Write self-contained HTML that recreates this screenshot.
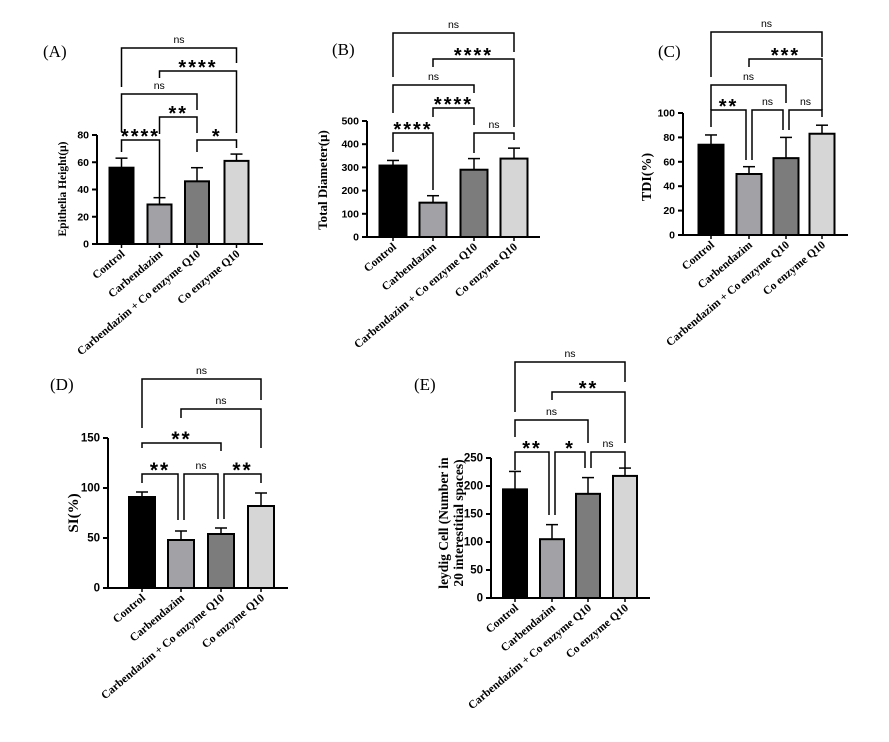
<!DOCTYPE html>
<html><head><meta charset="utf-8"><style>html,body{margin:0;padding:0;background:#fff}svg{display:block}</style></head>
<body>
<svg id="s" xmlns="http://www.w3.org/2000/svg" width="889" height="742" viewBox="0 0 889 742"></svg>
<script>
const S=document.getElementById('s');
function el(t,a,txt){const e=document.createElementNS('http://www.w3.org/2000/svg',t);for(const k in a)e.setAttribute(k,a[k]);if(txt!==undefined)e.textContent=txt;S.appendChild(e);return e;}
const cols=['#000','#a2a2a6','#7c7c7c','#d6d6d6'];
const names=['Control','Carbendazim','Carbendazim + Co enzyme Q10','Co enzyme Q10'];
function panel(p){
  const {ax,y0,yT,max,step,xs,vals,errs,xe,bw,br,lab,ylab,ylabx,ylaby,yls,fsTick,starSize}=p;
  const sc=v=>y0-(v/max)*(y0-yT);
  xs.forEach((x,i)=>{
    const top=sc(vals[i]),et=sc(vals[i]+errs[i]);
    el('line',{x1:x,y1:top,x2:x,y2:et,stroke:'#000','stroke-width':1.5});
    el('line',{x1:x-6,y1:et,x2:x+6,y2:et,stroke:'#000','stroke-width':1.5});
    el('rect',{x:x-bw/2,y:top,width:bw,height:y0-top,fill:cols[i],stroke:'#000','stroke-width':2});
    el('text',{x:0,y:0,transform:`translate(${x+4},${y0+11}) rotate(-40)`,'text-anchor':'end','font-family':'Liberation Serif,serif','font-weight':'bold','font-size':11.5},names[i]);
  });
  el('line',{x1:ax,y1:yT,x2:ax,y2:y0+1,stroke:'#000','stroke-width':2});
  el('line',{x1:ax,y1:y0,x2:xe,y2:y0,stroke:'#000','stroke-width':2});
  for(let v=0;v<=max;v+=step){const y=sc(v);
    el('line',{x1:ax-5,y1:y,x2:ax,y2:y,stroke:'#000','stroke-width':2});
    el('text',{x:ax-8,y:y+3.5,'text-anchor':'end','font-family':'Liberation Sans,sans-serif','font-weight':'bold','font-size':fsTick||10.5},String(v));}
  xs.forEach(x=>el('line',{x1:x,y1:y0,x2:x,y2:y0+4,stroke:'#000','stroke-width':1.5}));
  br.forEach(b=>{const [i,j,y,t,e1,e2,o1,o2]=b;const x1=xs[i]+(o1||0),x2=xs[j]+(o2||0);
    el('polyline',{points:`${x1},${e1} ${x1},${y} ${x2},${y} ${x2},${e2}`,fill:'none',stroke:'#000','stroke-width':1.5});
    const cx=(x1+x2)/2;
    if(t==='ns')el('text',{x:cx,y:y-5,'text-anchor':'middle','font-family':'Liberation Sans,sans-serif','font-size':10.5},'ns');
    else el('text',{x:cx,y:y+3,'text-anchor':'middle','font-family':'Liberation Sans,sans-serif','font-weight':'900','font-size':starSize||20,'letter-spacing':2},t);
  });
  el('text',{x:lab[0],y:lab[1],'font-family':'Liberation Serif,serif','font-size':17},lab[2]);
  ylab.forEach((t,k)=>el('text',{x:0,y:0,transform:`translate(${ylabx[k]},${ylaby}) rotate(-90)`,'text-anchor':'middle','font-family':'Liberation Serif,serif','font-weight':'bold','font-size':yls},t));
}
panel({ax:97,y0:244,yT:135,max:80,step:20,xs:[121.5,159.5,197,236.5],vals:[56,29,46,61],errs:[7,5,10,5],xe:263,bw:24,
 br:[[0,3,48,'ns',87,63],[1,3,71,'****',78,133],[0,2,94,'ns',132,110],[1,2,117,'**',134,133],[0,1,140,'****',152,197],[2,3,140,'*',152,148]],
 lab:[43,57,'(A)'],ylab:['Epithelia Height(μ)'],ylabx:[66],ylaby:189,yls:11.5});
panel({ax:367,y0:237,yT:121,max:500,step:100,xs:[393,433,474,514],vals:[308,148,290,338],errs:[22,30,48,45],xe:540,bw:27,
 br:[[0,3,33,'ns',77,52],[1,3,59,'****',67,127],[0,2,85,'ns',113,93],[1,2,108,'****',117,125],[0,1,133,'****',152,190],[2,3,133,'ns',153,140]],
 lab:[332,55,'(B)'],ylab:['Total Diameter(μ)'],ylabx:[327],ylaby:180,yls:13});
panel({ax:683,y0:235,yT:113,max:100,step:20,xs:[711,749,786,822],vals:[74,50,63,83],errs:[8,6,17,7],xe:848,bw:25,
 br:[[0,3,32,'ns',77,57],[1,3,59,'***',67,110],[0,2,85,'ns',110,103],[0,1,110,'**',127,160,0,-3],[1,2,110,'ns',160,130,3,-3],[2,3,110,'ns',130,117,3,0]],
 lab:[658,57,'(C)'],ylab:['TDI(%)'],ylabx:[651],ylaby:177,yls:14});
panel({ax:108,y0:588,yT:438,max:150,step:50,xs:[142,181,221,261],vals:[91,48,54,82],errs:[5,9,6,13],xe:288,bw:26,fsTick:11.5,starSize:21,
 br:[[0,3,379,'ns',428,400],[1,3,409,'ns',418,448],[0,2,443,'**',448,451],[0,1,474,'**',483,520,0,-3],[1,2,474,'ns',520,519,3,-3],[2,3,474,'**',519,483,3,0]],
 lab:[50,390,'(D)'],ylab:['SI(%)'],ylabx:[78],ylaby:513,yls:15});
panel({ax:491,y0:598,yT:458,max:250,step:50,xs:[515,552,588,625],vals:[194,105,186,218],errs:[32,26,29,14],xe:650,bw:24,fsTick:11.5,
 br:[[0,3,362,'ns',412,382],[1,3,392,'**',400,443],[0,2,420,'ns',437,443],[0,1,452,'**',470,515,0,-3],[1,2,452,'*',515,468,3,-3],[2,3,452,'ns',468,468,3,0]],
 lab:[414,390,'(E)'],ylab:['leydig Cell (Number in','20 interestitial spaces)'],ylabx:[448,463],ylaby:523,yls:13.5});
</script>
</body></html>
